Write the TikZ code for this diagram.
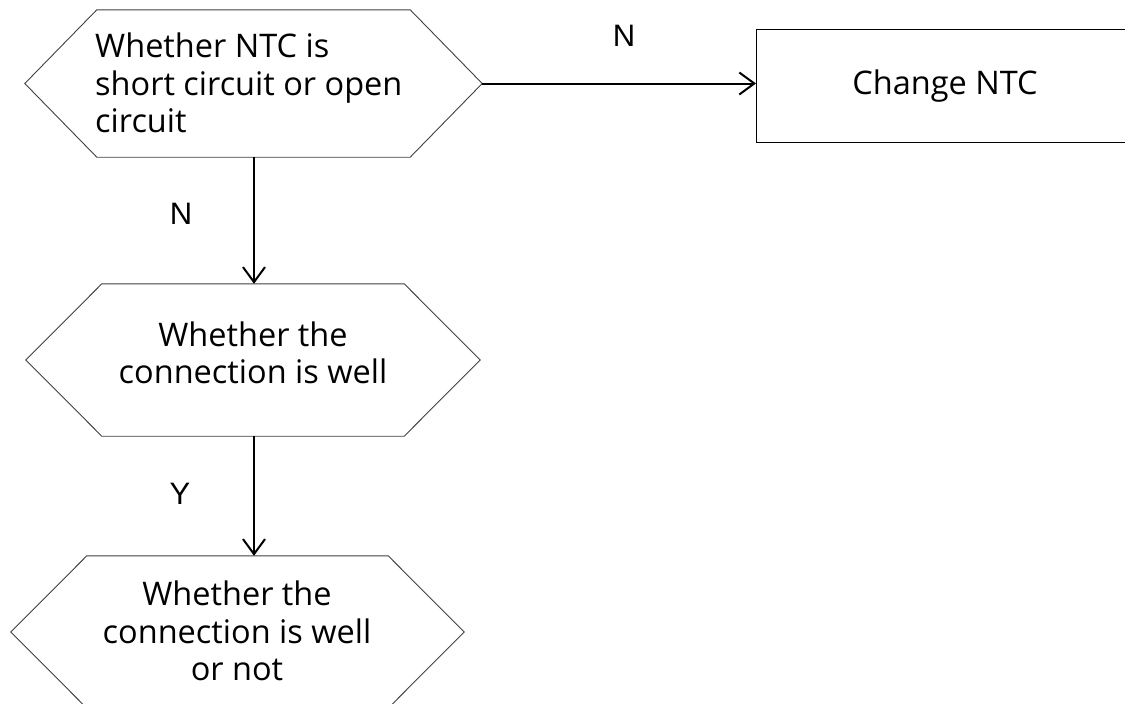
\documentclass[tikz,border=0pt]{standalone}
\usepackage{fontspec}
\setmainfont{Open Sans}
\newfontfamily\labelfont{Liberation Sans}
\usetikzlibrary{arrows.meta}
\tikzset{
  hexframe/.style={draw=black!75, line width=0.9pt},
  boxframe/.style={draw=black, line width=1pt},
  txt/.style={font=\fontsize{32.5}{37.5}\selectfont, inner sep=0pt},
  conn/.style={draw=black, line width=2pt, -{Straight Barb[length=15pt,width=22pt,line width=2pt]}},
  lbl/.style={font=\labelfont\fontsize{31}{36}\selectfont, inner sep=0pt},
}
\begin{document}
\begin{tikzpicture}[x=1pt,y=-1pt]
\useasboundingbox (0,0) rectangle (1125,704);
% hexagon 1
\node[minimum width=457pt, minimum height=147pt, inner sep=0pt] (h1) at (253.5,83.5) {};
\draw[hexframe] (h1.west) -- ([xshift=72pt]h1.north west) -- ([xshift=-72pt]h1.north east) -- (h1.east) -- ([xshift=-72pt]h1.south east) -- ([xshift=72pt]h1.south west) -- cycle;
\node[txt, align=left, anchor=west] (t1) at (95,83) {Whether NTC is\\short circuit or open\\circuit};
% hexagon 2
\node[minimum width=454pt, minimum height=152pt, inner sep=0pt] (h2) at (253,360) {};
\draw[hexframe] (h2.west) -- ([xshift=76pt]h2.north west) -- ([xshift=-76pt]h2.north east) -- (h2.east) -- ([xshift=-76pt]h2.south east) -- ([xshift=76pt]h2.south west) -- cycle;
\node[txt, align=center] (t2) at (253,353) {Whether the\\connection is well};
% hexagon 3
\node[minimum width=453pt, minimum height=152pt, inner sep=0pt] (h3) at (237.5,632) {};
\draw[hexframe] (h3.west) -- ([xshift=76pt]h3.north west) -- ([xshift=-76pt]h3.north east) -- (h3.east) -- ([xshift=-76pt]h3.south east) -- ([xshift=76pt]h3.south west) -- cycle;
\node[txt, align=center] (t3) at (237,631) {Whether the\\connection is well\\or not};
% box
\node[boxframe, minimum width=380pt, minimum height=113pt, inner sep=0pt, anchor=north west] (b) at (756,29) {};
\node[txt] (bt) at (945,86) {Change NTC};
% connectors
\coordinate (a1) at (254,157);
\coordinate (a2) at (254,436);
\draw[conn] (h1.east) -- (h1.east -| b.west);
\draw[conn] (h1.south -| a1) -- (h2.north -| a1);
\draw[conn] (h2.south -| a2) -- (h3.north -| a2);
% labels
\node[lbl] (n1) at (624,36) {N};
\node[lbl] (n2) at (181,214) {N};
\node[lbl] (y1) at (180,494) {Y};
\end{tikzpicture}
\end{document}
